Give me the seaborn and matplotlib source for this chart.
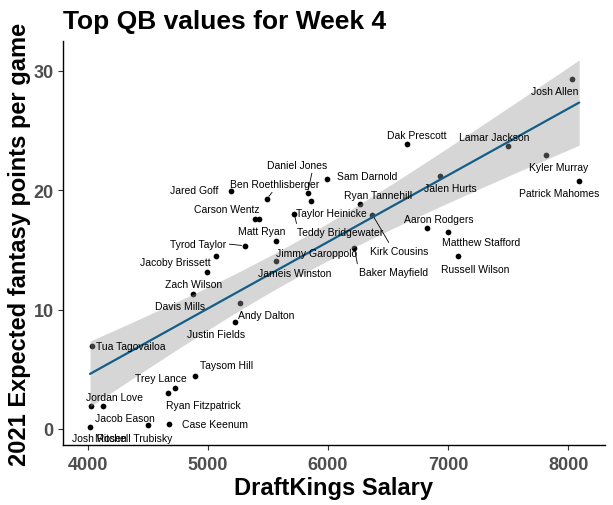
import numpy as np
import pandas as pd
import matplotlib
matplotlib.use("Agg")
import matplotlib.pyplot as plt
import seaborn as sns

# ---------------- data ----------------
players = ["Josh Allen", "Dak Prescott", "Lamar Jackson", "Kyler Murray", "Patrick Mahomes",
           "Jalen Hurts", "Sam Darnold", "Daniel Jones", "Taylor Heinicke", "Ryan Tannehill",
           "Kirk Cousins", "Teddy Bridgewater", "Aaron Rodgers", "Matthew Stafford", "Russell Wilson",
           "Baker Mayfield", "Jameis Winston", "Jimmy Garoppolo", "Matt Ryan", "Carson Wentz",
           "Jared Goff", "Ben Roethlisberger", "Tyrod Taylor", "Jacoby Brissett", "Zach Wilson",
           "Davis Mills", "Andy Dalton", "Justin Fields", "Tua Tagovailoa", "Taysom Hill",
           "Trey Lance", "Ryan Fitzpatrick", "Jordan Love", "Jacob Eason", "Josh Rosen",
           "Mitchell Trubisky", "Case Keenum"]
salary = [8030, 6660, 7500, 7810, 8090,
          6930, 5990, 5830, 5860, 6270,
          6370, 5720, 6820, 7000, 7080,
          6220, 5570, 5570, 5430, 5390,
          5190, 5490, 5310, 5070, 4990,
          4880, 5270, 5230, 4040, 4890,
          4730, 4670, 4030, 4130, 4020,
          4500, 4680]
points = [29.31, 23.86, 23.70, 22.94, 20.76,
          21.18, 20.93, 19.78, 19.11, 18.84,
          17.94, 18.02, 16.82, 16.49, 14.48,
          15.15, 14.06, 15.73, 17.60, 17.60,
          19.95, 19.25, 15.34, 14.50, 13.13,
          11.32, 10.56, 8.94, 6.93, 4.42,
          3.41, 2.99, 1.90, 1.90, 0.17,
          0.34, 0.39]
x_ticks = [4000, 5000, 6000, 7000, 8000]
y_ticks = [0, 10, 20, 30]

# label placement (offset in pixels from the point: dx, dy-up) and optional segment anchor
label_offsets = {
    "Josh Allen": (-17, -12), "Dak Prescott": (9, 9), "Lamar Jackson": (-14, 9),
    "Kyler Murray": (13, -12), "Patrick Mahomes": (-20, -12), "Jalen Hurts": (11, -12),
    "Sam Darnold": (40, 3), "Daniel Jones": (-10, 28), "Taylor Heinicke": (20, -12),
    "Ryan Tannehill": (18, 9), "Kirk Cousins": (27, -36), "Teddy Bridgewater": (46, -18),
    "Aaron Rodgers": (12, 9), "Matthew Stafford": (33, -10), "Russell Wilson": (17, -13),
    "Baker Mayfield": (39, -24), "Jameis Winston": (18, -12), "Jimmy Garoppolo": (40, -12),
    "Matt Ryan": (2, -12), "Carson Wentz": (-28, 10), "Jared Goff": (-36, 1),
    "Ben Roethlisberger": (8, 15), "Tyrod Taylor": (-47, 2), "Jacoby Brissett": (-41, -6),
    "Zach Wilson": (-13, -12), "Davis Mills": (-13, -12), "Andy Dalton": (26, -12),
    "Justin Fields": (-19, -12), "Tua Tagovailoa": (38, 0), "Taysom Hill": (32, 11),
    "Trey Lance": (-14, 10), "Ryan Fitzpatrick": (35, -12), "Jordan Love": (23, 9),
    "Jacob Eason": (22, -12), "Josh Rosen": (9, -11), "Mitchell Trubisky": (-14, -13),
    "Case Keenum": (46, 0),
}
segments = {
    "Daniel Jones": (0.75, 0.0), "Kirk Cousins": (0.35, 1.0), "Teddy Bridgewater": (0.0, 1.0),
    "Baker Mayfield": (0.0, 0.5), "Ben Roethlisberger": (0.5, 0.0), "Tyrod Taylor": (1.0, 0.5),
}

df = pd.DataFrame({"player": players, "salary": salary, "points": points})

# ---------------- style ----------------
sns.set_style("ticks")
plt.rcParams["font.family"] = ["Liberation Sans", "DejaVu Sans"]

W, H = 613, 506
fig = plt.figure(figsize=(W / 100, H / 100), dpi=100)
L, R, T, B = 63, 605, 42, 446
ax = fig.add_axes([L / W, 1 - B / H, (R - L) / W, (B - T) / H])

# points
sns.scatterplot(data=df, x="salary", y="points", color="black", s=17, linewidth=0,
                ax=ax, zorder=2)

# linear fit with analytic 95% confidence band (like geom_smooth(method='lm'))
x = df["salary"].to_numpy(float)
y = df["points"].to_numpy(float)
n = len(x)
b1, b0 = np.polyfit(x, y, 1)
xs = np.linspace(x.min(), x.max(), 200)
resid = y - (b0 + b1 * x)
s_err = np.sqrt(np.sum(resid ** 2) / (n - 2))
sxx = np.sum((x - x.mean()) ** 2)
t_crit = 2.03
se_fit = s_err * np.sqrt(1 / n + (xs - x.mean()) ** 2 / sxx)
fit = b0 + b1 * xs
ax.fill_between(xs, fit - t_crit * se_fit, fit + t_crit * se_fit,
                color="#999999", alpha=0.4, linewidth=0, zorder=3)
sns.regplot(data=df, x="salary", y="points", scatter=False, ci=None, ax=ax,
            line_kws=dict(color="#145E86", lw=1.6, zorder=4))

# labels
for name, sx, py in zip(players, salary, points):
    dx, dy = label_offsets[name]
    kw = {}
    if name in segments:
        kw["arrowprops"] = dict(arrowstyle="-", color="black", lw=0.6,
                                shrinkA=0, shrinkB=2.5, relpos=segments[name])
    ax.annotate(name, xy=(sx, py), xytext=(dx, dy), textcoords="offset pixels",
                ha="center", va="center", fontsize=7.5, color="black", zorder=5, **kw)

# axes
ax.set_xlim(3795, 8305)
ax.set_ylim(-1.35, 32.5)
ax.set_xticks(x_ticks)
ax.set_yticks(y_ticks)
ax.set_xticklabels([str(v) for v in x_ticks], fontsize=13, fontweight="bold", color="#4D4D4D")
ax.set_yticklabels([str(v) for v in y_ticks], fontsize=13, fontweight="bold", color="#4D4D4D")
ax.tick_params(axis="x", length=3.3, width=0.8, color="#333333", pad=4.5)
ax.tick_params(axis="y", length=3.3, width=0.8, color="#333333", pad=3.4)
for side in ["top", "right"]:
    ax.spines[side].set_visible(False)
for side in ["left", "bottom"]:
    ax.spines[side].set_linewidth(1.0)
    ax.spines[side].set_color("black")
ax.set_xlabel("")
ax.set_ylabel("")
ax.grid(False)

fig.text(L / W, 1 - 29 / H, "Top QB values for Week 4", fontsize=19, fontweight="bold",
         ha="left", va="baseline", color="black")
fig.text((L + R) / 2 / W, 1 - 495 / H, "DraftKings Salary", fontsize=17, fontweight="bold",
         ha="center", va="baseline", color="black")
fig.text(19.5 / W, 1 - ((T + B) / 2) / H, "2021 Expected fantasy points per game", fontsize=17,
         fontweight="bold", rotation=90, ha="center", va="center", color="black")

fig.savefig("out.png", dpi=100)
